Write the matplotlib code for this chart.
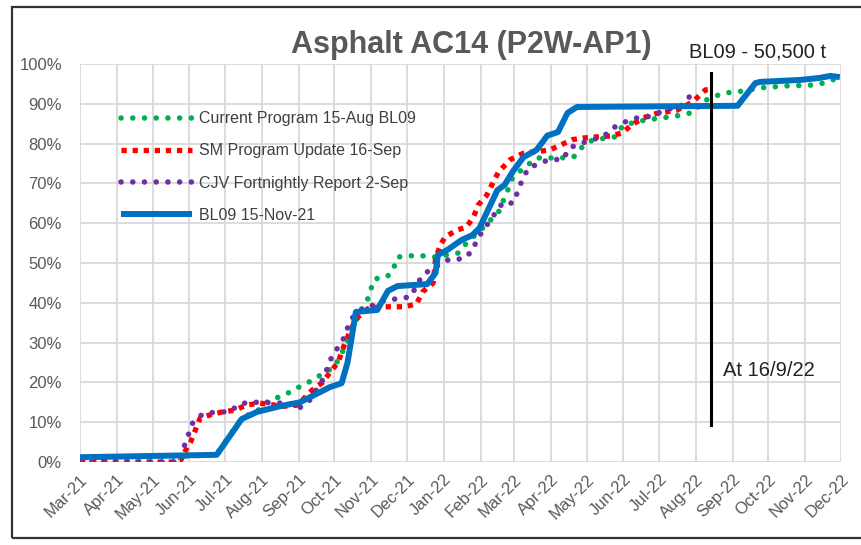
import matplotlib
matplotlib.use("Agg")
import matplotlib.pyplot as plt
import matplotlib.dates as mdates
import pandas as pd
from matplotlib.patches import Rectangle

plt.rcParams['font.family'] = ['Liberation Sans', 'DejaVu Sans']

# --- data (date, % complete) ---
green_dates = ["2021-03-01", "2021-06-01", "2021-06-24", "2021-07-15", "2021-08-01",
               "2021-08-05", "2021-08-15", "2021-08-25", "2021-09-04", "2021-09-13",
               "2021-09-21", "2021-10-01", "2021-10-10", "2021-10-16", "2021-10-22",
               "2021-10-28", "2021-10-31", "2021-11-04", "2021-11-14", "2021-11-19",
               "2021-11-23", "2021-12-04", "2021-12-14", "2021-12-25", "2022-01-13",
               "2022-01-20", "2022-01-31", "2022-02-16", "2022-02-24", "2022-02-28",
               "2022-03-20", "2022-04-09", "2022-04-20", "2022-04-27", "2022-05-06",
               "2022-05-25", "2022-06-01", "2022-06-09", "2022-06-19", "2022-07-10",
               "2022-07-21", "2022-07-31", "2022-08-06", "2022-08-24", "2022-09-05",
               "2022-09-24", "2022-10-17", "2022-11-07", "2022-11-18", "2022-11-28"]
green_vals = [1.0, 1.5, 2.0, 11.0, 13.5,
              15.0, 16.3, 17.6, 19.3, 20.6,
              22.2, 23.9, 29.0, 33.0, 37.7,
              40.0, 43.0, 46.0, 46.5, 48.0,
              51.5, 51.8, 51.8, 51.5, 52.5,
              55.0, 58.0, 62.8, 68.5, 71.6,
              76.4, 76.4, 76.6, 79.0, 80.9,
              81.7, 84.7, 85.2, 85.9, 86.7,
              87.2, 88.0, 90.5, 92.7, 93.0,
              94.0, 94.5, 94.7, 95.3, 96.5]

red_dates = ["2021-03-01", "2021-05-24", "2021-05-28", "2021-06-02", "2021-06-06",
             "2021-06-10", "2021-06-18", "2021-06-29", "2021-07-09", "2021-07-19",
             "2021-07-30", "2021-08-19", "2021-08-31", "2021-09-12", "2021-09-21",
             "2021-09-27", "2021-10-04", "2021-10-10", "2021-10-16", "2021-10-21",
             "2021-10-29", "2021-11-08", "2021-11-29", "2021-12-09", "2021-12-14",
             "2021-12-23", "2021-12-25", "2021-12-29", "2022-01-02", "2022-01-12",
             "2022-01-20", "2022-01-26", "2022-01-30", "2022-02-06", "2022-02-11",
             "2022-02-16", "2022-02-26", "2022-03-09", "2022-03-21", "2022-03-31",
             "2022-04-09", "2022-04-19", "2022-04-28", "2022-05-10", "2022-05-21",
             "2022-05-31", "2022-06-08", "2022-06-18", "2022-06-28", "2022-07-16",
             "2022-07-29", "2022-08-09", "2022-08-15"]
red_vals = [0.0, 0.0, 2.5, 5.0, 8.0,
            11.0, 11.8, 12.6, 13.0, 14.3,
            14.8, 14.0, 14.3, 18.0, 20.0,
            22.4, 25.0, 30.0, 34.0, 36.5,
            38.5, 39.0, 39.0, 39.7, 42.7,
            45.0, 51.0, 54.5, 56.5, 58.3,
            59.0, 61.6, 64.6, 67.0, 70.0,
            72.9, 76.0, 77.6, 78.0, 78.4,
            79.6, 81.0, 81.4, 81.7, 81.9,
            82.7, 84.7, 86.5, 87.5, 88.4,
            90.4, 93.5, 93.7]

purple_dates = ["2021-03-01", "2021-05-24", "2021-05-28", "2021-06-01", "2021-06-04",
                "2021-06-12", "2021-06-24", "2021-07-05", "2021-07-12", "2021-07-20",
                "2021-08-02", "2021-08-12", "2021-08-25", "2021-08-31", "2021-09-09",
                "2021-09-21", "2021-09-25", "2021-09-29", "2021-10-08", "2021-10-12",
                "2021-10-16", "2021-10-22", "2021-11-13", "2021-11-23", "2021-12-04",
                "2021-12-14", "2021-12-23", "2022-01-06", "2022-01-17", "2022-01-25",
                "2022-01-29", "2022-02-15", "2022-02-20", "2022-02-28", "2022-03-04",
                "2022-03-08", "2022-03-13", "2022-03-22", "2022-03-31", "2022-04-11",
                "2022-04-17", "2022-04-26", "2022-05-06", "2022-05-15", "2022-05-23",
                "2022-06-02", "2022-06-12", "2022-06-25", "2022-07-04", "2022-07-21",
                "2022-07-29"]
purple_vals = [0.0, 0.0, 4.3, 7.5, 10.0,
               12.0, 12.6, 12.6, 14.3, 15.0,
               15.0, 14.8, 14.8, 13.3, 15.0,
               20.6, 23.6, 26.6, 30.6, 33.7,
               36.2, 38.0, 40.7, 41.0, 41.5,
               47.0, 48.7, 51.0, 51.0, 53.0,
               56.0, 63.3, 65.3, 65.0, 67.8,
               71.0, 73.8, 75.0, 76.0, 76.0,
               79.0, 80.0, 81.0, 81.7, 83.9,
               85.4, 86.4, 86.9, 88.2, 89.7,
               92.7]

blue_dates = ["2021-03-01", "2021-06-24", "2021-07-15", "2021-07-28", "2021-08-16",
              "2021-09-02", "2021-09-27", "2021-10-07", "2021-10-12", "2021-10-19",
              "2021-11-06", "2021-11-15", "2021-11-23", "2021-12-18", "2021-12-25",
              "2021-12-27", "2022-01-04", "2022-01-16", "2022-01-25", "2022-01-31",
              "2022-02-06", "2022-02-15", "2022-02-21", "2022-02-28", "2022-03-09",
              "2022-03-20", "2022-03-29", "2022-04-07", "2022-04-15", "2022-04-23",
              "2022-09-05", "2022-09-20", "2022-09-24", "2022-10-28", "2022-11-13",
              "2022-11-22", "2022-11-30"]
blue_vals = [1.2, 1.8, 10.8, 12.6, 14.0,
             15.0, 18.8, 19.8, 25.0, 37.7,
             38.2, 43.0, 44.2, 44.7, 47.5,
             52.0, 53.3, 55.8, 57.0, 58.8,
             62.6, 68.3, 69.6, 73.0, 76.6,
             78.4, 82.0, 82.9, 87.7, 89.2,
             89.5, 95.2, 95.5, 96.0, 96.5,
             97.0, 96.7]

labels = ["Current Program 15-Aug BL09", "SM Program Update 16-Sep",
          "CJV Fortnightly Report 2-Sep", "BL09 15-Nov-21"]

marker_date = "2022-08-14"   # vertical "At 16/9/22" line
marker_range = [9.3, 97.7]

# --- figure ---
fig = plt.figure(figsize=(8.61, 5.45), dpi=100)
ax = fig.add_axes([0.0929, 0.1523, 0.8839, 0.7303])

ax.plot(pd.to_datetime(green_dates), green_vals, color="#00b050", lw=4.0,
        dashes=(0.01, 2.1), dash_capstyle="round", label=labels[0])
ax.plot(pd.to_datetime(red_dates), red_vals, color="#ff0000", lw=3.8,
        dashes=(1.0, 1.1), dash_capstyle="butt", label=labels[1])
ax.plot(pd.to_datetime(purple_dates), purple_vals, color="#7030a0", lw=4.0,
        dashes=(0.01, 2.1), dash_capstyle="round", label=labels[2])
ax.plot(pd.to_datetime(blue_dates), blue_vals, color="#0070c0", lw=4.3,
        solid_capstyle="butt", label=labels[3])

md = pd.to_datetime(marker_date)
ax.plot([md, md], marker_range, color="black", lw=2.2)

ax.set_ylim(0, 100)
ax.set_xlim(pd.Timestamp("2021-03-01"), pd.Timestamp("2022-12-01"))
ax.set_yticks(range(0, 101, 10))
ax.set_yticklabels([f"{v}%" for v in range(0, 101, 10)])
ax.xaxis.set_major_locator(mdates.MonthLocator())
ax.xaxis.set_major_formatter(mdates.DateFormatter("%b-%y"))
ax.grid(True, color="#d9d9d9", lw=1.3)
ax.set_axisbelow(True)
for s in ax.spines.values():
    s.set_visible(False)
ax.tick_params(length=0, labelsize=12, labelcolor="#595959")
ax.tick_params(axis="y", pad=13)
ax.tick_params(axis="x", pad=7)
plt.setp(ax.get_xticklabels(), rotation=45, ha="right", rotation_mode="anchor")

leg = ax.legend(loc="upper left", bbox_to_anchor=(0.140, 0.796),
                bbox_transform=fig.transFigure, frameon=False, fontsize=11.5,
                handlelength=4.5, handletextpad=0.4, labelspacing=1.08,
                borderpad=0, borderaxespad=0)
for t in leg.get_texts():
    t.set_color("#404040")

fig.text(0.5476, 0.9028, "Asphalt AC14 (P2W-AP1)", ha="center", va="baseline",
         fontsize=22, fontweight="bold", color="#595959")
fig.text(0.8798, 0.8936, "BL09 - 50,500 t", ha="center", va="baseline",
         fontsize=14.5, color="#222222")
fig.text(0.8397, 0.3101, "At 16/9/22", ha="left", va="baseline",
         fontsize=14.5, color="#222222")

# outer chart border
fig.patches.append(Rectangle((0.0139, 0.0128), 1.0, 0.9744, transform=fig.transFigure,
                             fill=False, edgecolor="#333333", lw=1.6))

fig.savefig("out.png", dpi=100)
